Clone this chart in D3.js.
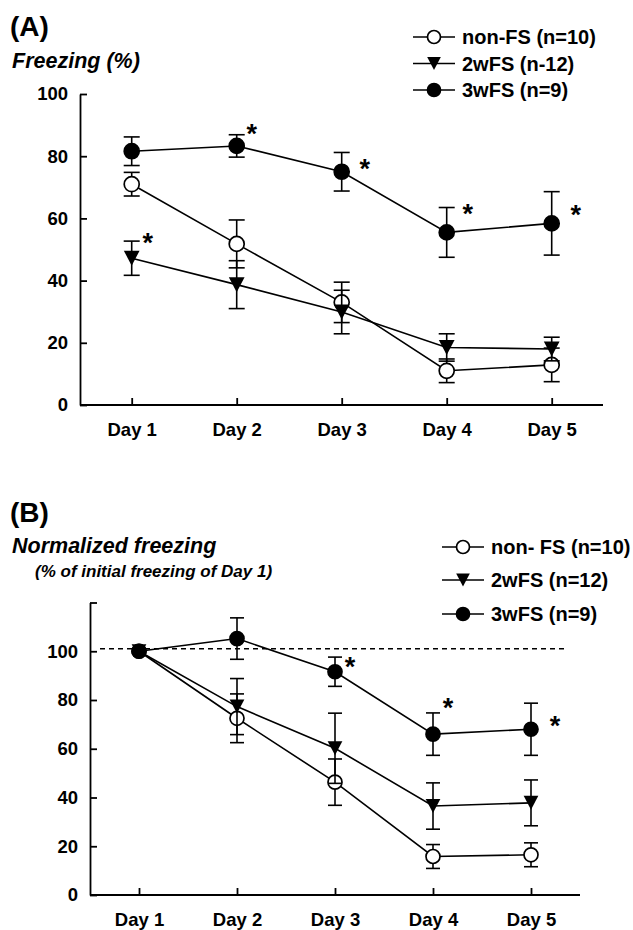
<!DOCTYPE html>
<html>
<head>
<meta charset="utf-8">
<script src="https://cdn.jsdelivr.net/npm/d3@7/dist/d3.min.js"></script>
<style>
  body { margin: 0; background: #fff; }
  text { font-family: "Liberation Sans", Arial, Helvetica, sans-serif; font-weight: bold; fill: #000; }
</style>
</head>
<body>
<script>
// data
var days = ["Day 1", "Day 2", "Day 3", "Day 4", "Day 5"];
var groups = ["nonFS", "2wFS", "3wFS"];

// (A) freezing %
var aNonFS = [71.0, 51.8, 33.0, 11.0, 12.9];
var aNonFSErr = [3.8, 7.7, 6.5, 3.8, 5.4];
var a2wFS = [47.2, 38.7, 29.9, 18.5, 18.0];
var a2wFSErr = [5.5, 7.7, 7.0, 4.4, 3.8];
var a3wFS = [81.6, 83.3, 75.0, 55.5, 58.4];
var a3wFSErr = [4.6, 3.6, 6.2, 8.0, 10.2];
var aLegend = ["non-FS (n=10)", "2wFS (n-12)", "3wFS (n=9)"];
var aTicks = [0, 20, 40, 60, 80, 100];
// significant points: [group, day index]
var aStars = [["2wFS", 0], ["3wFS", 1], ["3wFS", 2], ["3wFS", 3], ["3wFS", 4]];

// (B) normalized freezing
var bNonFS = [100, 72.5, 46.3, 15.8, 16.5];
var bNonFSErr = [0, 10.0, 9.5, 4.9, 4.9];
var b2wFS = [100, 77.3, 60.2, 36.5, 37.8];
var b2wFSErr = [0, 11.5, 14.4, 9.5, 9.4];
var b3wFS = [100, 105.2, 91.6, 66.0, 68.0];
var b3wFSErr = [0, 8.5, 6.0, 8.7, 10.7];
var bLegend = ["non- FS (n=10)", "2wFS (n=12)", "3wFS (n=9)"];
var bTicks = [0, 20, 40, 60, 80, 100, 120];
var bStars = [["3wFS", 2], ["3wFS", 3], ["3wFS", 4]];
var bBaseline = 101;

var svg = d3.select("body").append("svg")
  .attr("width", 633)
  .attr("height", 930)
  .style("background", "#fff");

// marker drawing
function marker(g, group, cx, cy, size) {
  if (group == "2wFS") {
    var w = size * 2.1, h = size * 2;
    g.append("path")
      .attr("d", "M" + (cx - w / 2) + "," + (cy - h / 2) + "L" + (cx + w / 2) + "," + (cy - h / 2) + "L" + cx + "," + (cy + h / 2) + "Z")
      .attr("fill", "#000");
  } else {
    g.append("circle")
      .attr("cx", cx).attr("cy", cy).attr("r", size)
      .attr("fill", group == "nonFS" ? "#fff" : "#000")
      .attr("stroke", "#000")
      .attr("stroke-width", 1.7);
  }
}

function panel(opt) {
  var x = d3.scalePoint().domain(days).range(opt.xRange);
  var y = d3.scaleLinear().domain(opt.yDomain).range(opt.yRange);
  var g = svg.append("g");

  // y axis, ticks pointing in
  var yAxis = g.append("g")
    .attr("transform", "translate(" + opt.axisX + ",0)")
    .call(d3.axisLeft(y).tickValues(opt.ticks).tickSizeInner(-7).tickSizeOuter(0).tickPadding(12)
      .tickFormat(function(d) { return d > 100 ? "" : d; }));
  yAxis.attr("font-size", 18.5).attr("font-family", null);
  yAxis.selectAll("line, path").attr("stroke", "#000").attr("stroke-width", 1.8);

  // x axis
  var xAxis = g.append("g")
    .attr("transform", "translate(0," + opt.yRange[0] + ")")
    .call(d3.axisBottom(x).tickSizeInner(-7).tickSizeOuter(0).tickPadding(18));
  xAxis.select(".domain").remove();
  xAxis.attr("font-size", 18.5).attr("font-family", null);
  xAxis.selectAll("line").attr("stroke", "#000").attr("stroke-width", 1.8);
  g.append("line")
    .attr("x1", opt.axisX).attr("x2", opt.axisEnd)
    .attr("y1", opt.yRange[0]).attr("y2", opt.yRange[0])
    .attr("stroke", "#000").attr("stroke-width", 1.8);

  if (opt.dashed != null) {
    g.append("line")
      .attr("x1", opt.axisX + 10).attr("x2", opt.axisEnd - 15)
      .attr("y1", y(opt.dashed)).attr("y2", y(opt.dashed))
      .attr("stroke", "#000").attr("stroke-width", 1.4)
      .attr("stroke-dasharray", "5,4");
  }

  var line = d3.line()
    .x(function(d, i) { return x(days[i]); })
    .y(function(d) { return y(d); });

  groups.forEach(function(grp, k) {
    var vals = opt.means[k], errs = opt.errs[k];
    var sg = g.append("g");
    sg.append("path")
      .attr("d", line(vals))
      .attr("fill", "none")
      .attr("stroke", "#000")
      .attr("stroke-width", 1.6);
    vals.forEach(function(v, i) {
      var cx = x(days[i]);
      if (errs[i] > 0) {
        var top = y(v + errs[i]), bot = y(v - errs[i]);
        sg.append("line").attr("x1", cx).attr("x2", cx).attr("y1", top).attr("y2", bot)
          .attr("stroke", "#000").attr("stroke-width", 1.6);
        [top, bot].forEach(function(yy) {
          sg.append("line").attr("x1", cx - opt.cap).attr("x2", cx + opt.cap).attr("y1", yy).attr("y2", yy)
            .attr("stroke", "#000").attr("stroke-width", 1.6);
        });
      }
    });
    vals.forEach(function(v, i) {
      marker(sg, grp, x(days[i]), y(v), opt.r);
    });
  });

  // asterisks
  opt.stars.forEach(function(s, j) {
    var k = groups.indexOf(s[0]);
    var off = opt.starOffsets[j];
    g.append("text")
      .attr("x", x(days[s[1]]) + off[0])
      .attr("y", y(opt.means[k][s[1]]) + off[1] + 14)
      .attr("text-anchor", "middle")
      .style("font-size", "27px")
      .text("*");
  });

  // legend
  opt.legend.forEach(function(lbl, k) {
    var ly = opt.legendY[k];
    g.append("line")
      .attr("x1", opt.legendX).attr("x2", opt.legendX + 42)
      .attr("y1", ly).attr("y2", ly)
      .attr("stroke", "#000").attr("stroke-width", 1.6);
    marker(g, groups[k], opt.legendX + 21, ly, 6.5);
    g.append("text")
      .attr("x", opt.legendX + 49)
      .attr("y", ly + 7)
      .style("font-size", "20px")
      .text(lbl);
  });
}

// titles
svg.append("text").attr("x", 10).attr("y", 36).style("font-size", "28px").text("(A)");
svg.append("text").attr("x", 12).attr("y", 68).style("font-size", "21.5px").style("font-style", "italic").text("Freezing (%)");
svg.append("text").attr("x", 10).attr("y", 522).style("font-size", "28px").text("(B)");
svg.append("text").attr("x", 12).attr("y", 553).style("font-size", "21.5px").style("font-style", "italic").text("Normalized freezing");
svg.append("text").attr("x", 35).attr("y", 577).style("font-size", "17px").style("font-style", "italic").text("(% of initial freezing of Day 1)");

//panel A
panel({
  xRange: [131.7, 551.7],
  yDomain: [0, 100],
  yRange: [405, 94],
  axisX: 80,
  axisEnd: 603,
  ticks: aTicks,
  means: [aNonFS, a2wFS, a3wFS],
  errs: [aNonFSErr, a2wFSErr, a3wFSErr],
  cap: 8,
  r: 7.5,
  stars: aStars,
  starOffsets: [[16, -20], [15, -17], [23, -8], [21, -23], [24, -13]],
  legend: aLegend,
  legendX: 413,
  legendY: [37, 63.5, 90],
  dashed: null
});

//panel B
panel({
  xRange: [139, 531],
  yDomain: [0, 120],
  yRange: [895, 602.5],
  axisX: 90,
  axisEnd: 580,
  ticks: bTicks,
  means: [bNonFS, b2wFS, b3wFS],
  errs: [bNonFSErr, b2wFSErr, b3wFSErr],
  cap: 7,
  r: 7,
  stars: bStars,
  starOffsets: [[15, -10], [15, -31], [24, -8]],
  legend: bLegend,
  legendX: 442,
  legendY: [547, 580, 614],
  dashed: bBaseline
});
</script>
</body>
</html>
